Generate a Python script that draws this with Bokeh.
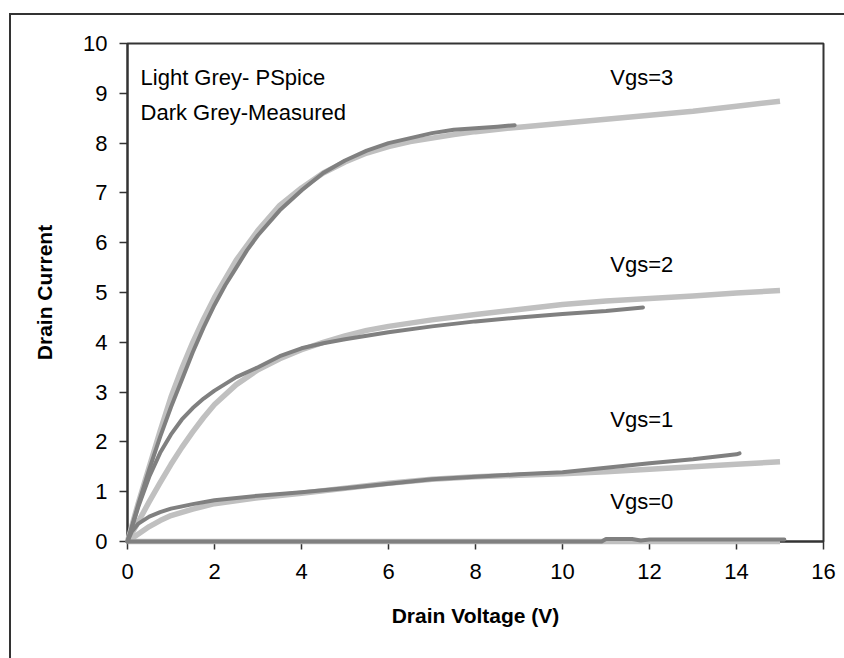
from bokeh.plotting import figure
from bokeh.models import FixedTicker
from bokeh.core.properties import value
from bokeh.embed import file_html
from bokeh.resources import INLINE

# PSpice simulation (light grey) and measured (dark grey) drain current curves
pspice_vd = {
    3: [0, 0.25, 0.5, 0.75, 1, 1.25, 1.5, 1.75, 2, 2.5, 3, 3.5, 4, 4.5, 5, 5.5, 6, 6.5, 7, 7.5, 8, 9, 10, 11, 12, 13, 14, 15],
    2: [0, 0.25, 0.5, 0.75, 1, 1.25, 1.5, 1.75, 2, 2.5, 3, 3.5, 4, 4.5, 5, 5.5, 6, 7, 8, 9, 10, 11, 12, 13, 14, 15],
    1: [0, 0.25, 0.5, 0.75, 1, 1.5, 2, 3, 4, 5, 6, 7, 8, 9, 10, 11, 12, 13, 14, 15],
    0: [0, 15],
}
pspice_id = {
    3: [0, 0.78, 1.5, 2.22, 2.9, 3.48, 4.0, 4.47, 4.9, 5.65, 6.25, 6.75, 7.1, 7.4, 7.62, 7.8, 7.93, 8.03, 8.1, 8.17, 8.23, 8.32, 8.4, 8.48, 8.56, 8.64, 8.74, 8.84],
    2: [0, 0.4, 0.8, 1.18, 1.55, 1.89, 2.2, 2.49, 2.75, 3.15, 3.45, 3.67, 3.85, 4.0, 4.13, 4.24, 4.32, 4.45, 4.56, 4.66, 4.76, 4.83, 4.88, 4.93, 4.99, 5.04],
    1: [0, 0.15, 0.3, 0.42, 0.52, 0.65, 0.76, 0.88, 0.97, 1.07, 1.17, 1.25, 1.3, 1.33, 1.36, 1.4, 1.45, 1.5, 1.55, 1.6],
    0: [0, 0],
}
measured_vd = {
    3: [0, 0.25, 0.5, 0.75, 1, 1.25, 1.5, 1.75, 2, 2.25, 2.5, 2.75, 3, 3.5, 4, 4.5, 5, 5.5, 6, 6.5, 7, 7.5, 8, 8.5, 8.9],
    2: [0, 0.25, 0.5, 0.75, 1, 1.25, 1.5, 1.75, 2, 2.5, 3, 3.5, 4, 4.5, 5, 5.5, 6, 7, 8, 9, 10, 11, 11.85],
    1: [0, 0.1, 0.25, 0.5, 0.75, 1, 1.5, 2, 3, 4, 5, 6, 7, 8, 9, 10, 11, 12, 13, 14, 14.07],
    0: [0, 10.9, 11.0, 11.6, 11.8, 12.0, 15.1],
}
measured_id = {
    3: [0, 0.75, 1.45, 2.1, 2.7, 3.25, 3.8, 4.3, 4.75, 5.15, 5.5, 5.85, 6.15, 6.65, 7.05, 7.4, 7.65, 7.85, 8.0, 8.1, 8.2, 8.27, 8.3, 8.33, 8.36],
    2: [0, 0.7, 1.3, 1.78, 2.15, 2.45, 2.68, 2.87, 3.03, 3.3, 3.5, 3.72, 3.88, 3.98, 4.06, 4.13, 4.2, 4.32, 4.42, 4.5, 4.57, 4.63, 4.7],
    1: [0, 0.2, 0.36, 0.5, 0.59, 0.66, 0.75, 0.83, 0.92, 0.99, 1.07, 1.16, 1.25, 1.3, 1.35, 1.39, 1.48, 1.57, 1.65, 1.75, 1.77],
    0: [0, 0, 0.05, 0.05, 0.02, 0.04, 0.04],
}

vgs_labels = ["Vgs=3", "Vgs=2", "Vgs=1", "Vgs=0"]
vgs_label_x = [11.1, 11.1, 11.1, 11.1]
vgs_label_y = [9.32, 5.56, 2.45, 0.8]
key_labels = ["Light Grey- PSpice", "Dark Grey-Measured"]
key_x = [0.3, 0.3]
key_y = [9.32, 8.62]

x_ticks = [0, 2, 4, 6, 8, 10, 12, 14, 16]
y_ticks = [0, 1, 2, 3, 4, 5, 6, 7, 8, 9, 10]

FONT = "Liberation Sans"
LIGHT = "#c0c0c0"
DARK = "#808080"
EDGE = "#333333"

p = figure(
    width=835, height=645,
    x_range=(0, 16), y_range=(0, 10),
    output_backend="svg", toolbar_location=None,
    min_border_left=116, min_border_right=23,
    min_border_top=28, min_border_bottom=119,
)
p.margin = (13, 0, 0, 9)
p.styles = {"border-top": f"2px solid {EDGE}", "border-left": f"2px solid {EDGE}",
            "box-sizing": "border-box"}
p.background_fill_color = "white"
p.border_fill_color = "white"
p.outline_line_color = EDGE
p.outline_line_width = 2
p.grid.visible = False

for k in [3, 2, 1, 0]:
    p.line(pspice_vd[k], pspice_id[k], line_color=LIGHT, line_width=5.5,
           line_join="round", level="overlay")
for k in [3, 2, 1, 0]:
    p.line(measured_vd[k], measured_id[k], line_color=DARK, line_width=4,
           line_join="round", line_cap="round", level="overlay")

p.text(x=vgs_label_x, y=vgs_label_y, text=vgs_labels,
       text_font=value(FONT), text_font_size="22px", text_color="black",
       text_baseline="middle", text_align="left")
p.text(x=key_x, y=key_y, text=key_labels,
       text_font=value(FONT), text_font_size="22px", text_color="black",
       text_baseline="middle", text_align="left")

p.xaxis.ticker = FixedTicker(ticks=x_ticks)
p.yaxis.ticker = FixedTicker(ticks=y_ticks)
p.xaxis.axis_label = "Drain Voltage (V)"
p.yaxis.axis_label = "Drain Current"
for ax in (p.xaxis, p.yaxis):
    ax.axis_line_color = EDGE
    ax.axis_line_width = 2
    ax.major_tick_line_color = EDGE
    ax.major_tick_line_width = 1.5
    ax.major_tick_out = 8
    ax.major_tick_in = 0
    ax.minor_tick_line_color = None
    ax.major_label_text_font = FONT
    ax.major_label_text_font_size = "22px"
    ax.major_label_text_color = "black"
    ax.axis_label_text_font = FONT
    ax.axis_label_text_font_size = "21px"
    ax.axis_label_text_font_style = "bold"
    ax.axis_label_text_color = "black"
p.xaxis.major_label_standoff = 14
p.yaxis.major_label_standoff = 12
p.xaxis.axis_label_standoff = 22
p.yaxis.axis_label_standoff = 24

open("out.html", "w").write(file_html(p, INLINE))
